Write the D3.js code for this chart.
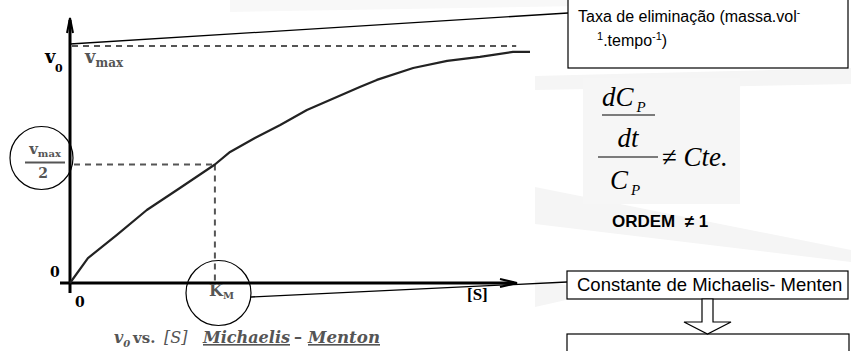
<!DOCTYPE html>
<html>
<head>
<meta charset="utf-8">
<script src="https://cdn.jsdelivr.net/npm/d3@7"></script>
<style>
  html, body { margin: 0; padding: 0; background: #fff; }
  svg { display: block; }
  text { white-space: pre; }
</style>
</head>
<body>
<svg id="chart" width="851" height="351"></svg>
<script>
// Michaelis–Menten saturation curve: substrate concentration vs. initial rate
const substrate = [0, 3.9, 10.2, 16.7, 23.9, 31.5, 34.8, 40.2, 45.7, 51.5, 58.0, 63.0, 66.7, 74.6, 82.0, 89.1, 96.3, 100];
const rate      = [0, 10.5, 20.3, 30.8, 40.1, 50.0, 55.3, 61.2, 66.7, 73.0, 78.5, 82.7, 85.7, 90.7, 93.7, 95.4, 97.5, 97.5];
const vmax = 100;
const halfVmax = vmax / 2;
const km = 31.5;
const axisTickLabels = ["0", "0"];
const noteTop = "Taxa de eliminação (massa.vol";
const noteKm = "Constante de Michaelis- Menten";

const svg = d3.select("#chart");
const x = d3.scaleLinear().domain([0, 100]).range([70, 530]);
const y = d3.scaleLinear().domain([0, 100]).range([283, 46]);

const grey = "#555";
const serif = "'DejaVu Serif', serif";
const sans = "'Liberation Sans', Arial, sans-serif";
const tnr = "'Liberation Serif', 'Times New Roman', serif";

svg.append("rect").attr("width", 851).attr("height", 351).attr("fill", "#fff");

// faint slide decorations
const deco = svg.append("g").attr("fill", "#f5f5f5");
deco.append("path").attr("d", "M230,0 L700,0 L700,4 L230,12 Z").attr("fill", "#f8f8f8");
deco.append("path").attr("d", "M535,76 L851,68 L851,84 L535,90 Z");
deco.append("path").attr("d", "M535,187 L851,250 L851,262 L535,224 Z");
deco.append("path").attr("d", "M535,280 L566,285 L566,300 L535,307 Z");

// formula backdrop
svg.append("rect").attr("x", 583).attr("y", 78).attr("width", 157).attr("height", 126).attr("fill", "#f6f6f6");

// reference levels
const dashes = svg.append("g").attr("stroke", grey).attr("stroke-width", 2).attr("stroke-dasharray", "6,5").attr("fill", "none");
dashes.append("line").attr("x1", x(0) + 2).attr("x2", x(97)).attr("y1", y(vmax)).attr("y2", y(vmax));
dashes.append("line").attr("x1", 74).attr("x2", x(km)).attr("y1", y(halfVmax)).attr("y2", y(halfVmax));
dashes.append("line").attr("x1", x(km)).attr("x2", x(km)).attr("y1", y(halfVmax)).attr("y2", y(0));

// axes
const axes = svg.append("g").attr("stroke", "#000").attr("stroke-width", 3).attr("fill", "none");
axes.append("line").attr("x1", x(0)).attr("x2", x(0)).attr("y1", 293).attr("y2", 20);
axes.append("line").attr("x1", 60).attr("x2", 514).attr("y1", y(0)).attr("y2", y(0));
axes.append("path").attr("d", `M${x(0) - 3},33 L${x(0)},18 L${x(0) + 3},33`).attr("stroke-width", 2);
axes.append("path").attr("d", `M500,${y(0) - 4} L517,${y(0)} L500,${y(0) + 4}`).attr("stroke-width", 2);

// curve
const line = d3.line().x((d, i) => x(substrate[i])).y(d => y(d));
svg.append("path").datum(rate).attr("d", line)
  .attr("fill", "none").attr("stroke", "#222").attr("stroke-width", 2.2).attr("stroke-linejoin", "round");

// circles around highlighted labels
svg.append("circle").attr("cx", 41.5).attr("cy", 158).attr("r", 31.5).attr("fill", "none").attr("stroke", "#000").attr("stroke-width", 1.2);
svg.append("circle").attr("cx", 218.5).attr("cy", 293).attr("r", 32.5).attr("fill", "none").attr("stroke", "#000").attr("stroke-width", 1.2);

// callout lines
svg.append("line").attr("x1", x(0)).attr("y1", 44).attr("x2", 568).attr("y2", 13).attr("stroke", "#000").attr("stroke-width", 1.3);
svg.append("line").attr("x1", 251).attr("y1", 297).attr("x2", 567).attr("y2", 282).attr("stroke", "#000").attr("stroke-width", 1.3);

// axis labels
const lab = svg.append("g").attr("font-family", serif).attr("font-weight", "bold");
lab.append("text").attr("x", 45).attr("y", 63).attr("font-size", 18).text("v");
lab.append("text").attr("x", 55).attr("y", 72).attr("font-size", 11).text("0");
const vm = lab.append("text").attr("x", 85).attr("y", 63).attr("fill", grey).attr("font-size", 18);
vm.append("tspan").text("v");
vm.append("tspan").attr("font-size", 12).attr("dy", 4).text("max");
const vh = lab.append("text").attr("x", 45).attr("y", 154).attr("fill", grey).attr("font-size", 15).attr("text-anchor", "middle");
vh.append("tspan").text("v");
vh.append("tspan").attr("font-size", 10).attr("dy", 3).text("max");
svg.append("line").attr("x1", 25).attr("x2", 65).attr("y1", y(halfVmax) - 2).attr("y2", y(halfVmax) - 2).attr("stroke", grey).attr("stroke-width", 2);
lab.append("text").attr("x", 43).attr("y", 178).attr("fill", grey).attr("font-size", 14).attr("text-anchor", "middle").text("2");
lab.append("text").attr("x", 50).attr("y", 277).attr("font-size", 14).text(axisTickLabels[0]);
lab.append("text").attr("x", 75).attr("y", 307).attr("font-size", 14).text(axisTickLabels[1]);
const kmt = lab.append("text").attr("x", 209).attr("y", 296).attr("fill", grey).attr("font-size", 16);
kmt.append("tspan").text("K");
kmt.append("tspan").attr("font-size", 10).attr("dy", 3).text("M");
svg.append("text").attr("x", 467).attr("y", 300).attr("font-family", tnr).attr("font-weight", "bold").attr("font-size", 17).text("[S]");

// caption
const cap = svg.append("g").attr("font-family", serif).attr("font-weight", "bold").attr("fill", grey).attr("font-size", 16);
const cv = cap.append("text").attr("x", 114).attr("y", 343).attr("font-style", "italic");
cv.append("tspan").text("v");
cv.append("tspan").attr("font-size", 10).attr("dy", 4).text("0");
cap.append("text").attr("x", 133).attr("y", 343).attr("font-size", 15).text("vs.");
cap.append("text").attr("x", 164).attr("y", 343).attr("font-style", "italic").attr("font-weight", "normal").text("[S]");
cap.append("text").attr("x", 203).attr("y", 343).attr("font-style", "italic").attr("text-decoration", "underline")
  .attr("textLength", 87).attr("lengthAdjust", "spacingAndGlyphs").text("Michaelis");
cap.append("text").attr("x", 294).attr("y", 343).text("–");
cap.append("text").attr("x", 308).attr("y", 343).attr("font-style", "italic").attr("text-decoration", "underline")
  .attr("textLength", 72).attr("lengthAdjust", "spacingAndGlyphs").text("Menton");

// note boxes
const box = svg.append("g").attr("fill", "#fff").attr("stroke", "#000").attr("stroke-width", 1.2);
box.append("rect").attr("x", 568).attr("y", -2).attr("width", 280).attr("height", 70);
box.append("rect").attr("x", 567).attr("y", 271).attr("width", 281).attr("height", 28);
box.append("rect").attr("x", 567).attr("y", 334).attr("width", 282).attr("height", 30);
box.append("path").attr("d", "M702,299 L713,299 L713,322 L731,322 L707.5,334 L684,322 L702,322 Z");

const t1 = svg.append("text").attr("x", 578).attr("y", 22).attr("font-family", sans).attr("font-size", 16);
t1.append("tspan").text(noteTop);
t1.append("tspan").attr("font-size", 10).attr("dy", -6).text("-");
const t2 = svg.append("text").attr("x", 597).attr("y", 46).attr("font-family", sans).attr("font-size", 16);
t2.append("tspan").attr("font-size", 11).attr("dy", -6).text("1");
t2.append("tspan").attr("dy", 6).text(".tempo");
t2.append("tspan").attr("font-size", 11).attr("dy", -6).text("-1");
t2.append("tspan").attr("dy", 6).text(")");
svg.append("text").attr("x", 577).attr("y", 291).attr("font-family", sans).attr("font-size", 18.5).text(noteKm);

// rate expression
const f = svg.append("g").attr("font-family", tnr).attr("font-style", "italic").attr("font-size", 27);
const dc = f.append("text").attr("x", 602).attr("y", 106);
dc.append("tspan").text("dC");
dc.append("tspan").attr("font-size", 15).attr("dy", 6).attr("dx", 3).text("P");
f.append("line").attr("x1", 602).attr("x2", 655).attr("y1", 115).attr("y2", 115).attr("stroke", "#000").attr("stroke-width", 1.2);
f.append("text").attr("x", 628).attr("y", 147).attr("text-anchor", "middle").text("dt");
f.append("line").attr("x1", 598).attr("x2", 658).attr("y1", 157).attr("y2", 157).attr("stroke", "#000").attr("stroke-width", 1.2);
const cp = f.append("text").attr("x", 610).attr("y", 189);
cp.append("tspan").text("C");
cp.append("tspan").attr("font-size", 15).attr("dy", 6).attr("dx", 3).text("P");
const ne = f.append("text").attr("x", 662).attr("y", 166);
ne.append("tspan").attr("font-style", "normal").text("≠ ");
ne.append("tspan").text("Cte.");
svg.append("text").attr("x", 612).attr("y", 227).attr("font-family", sans).attr("font-weight", "bold").attr("font-size", 17).text("ORDEM  ≠ 1");
</script>
</body>
</html>
